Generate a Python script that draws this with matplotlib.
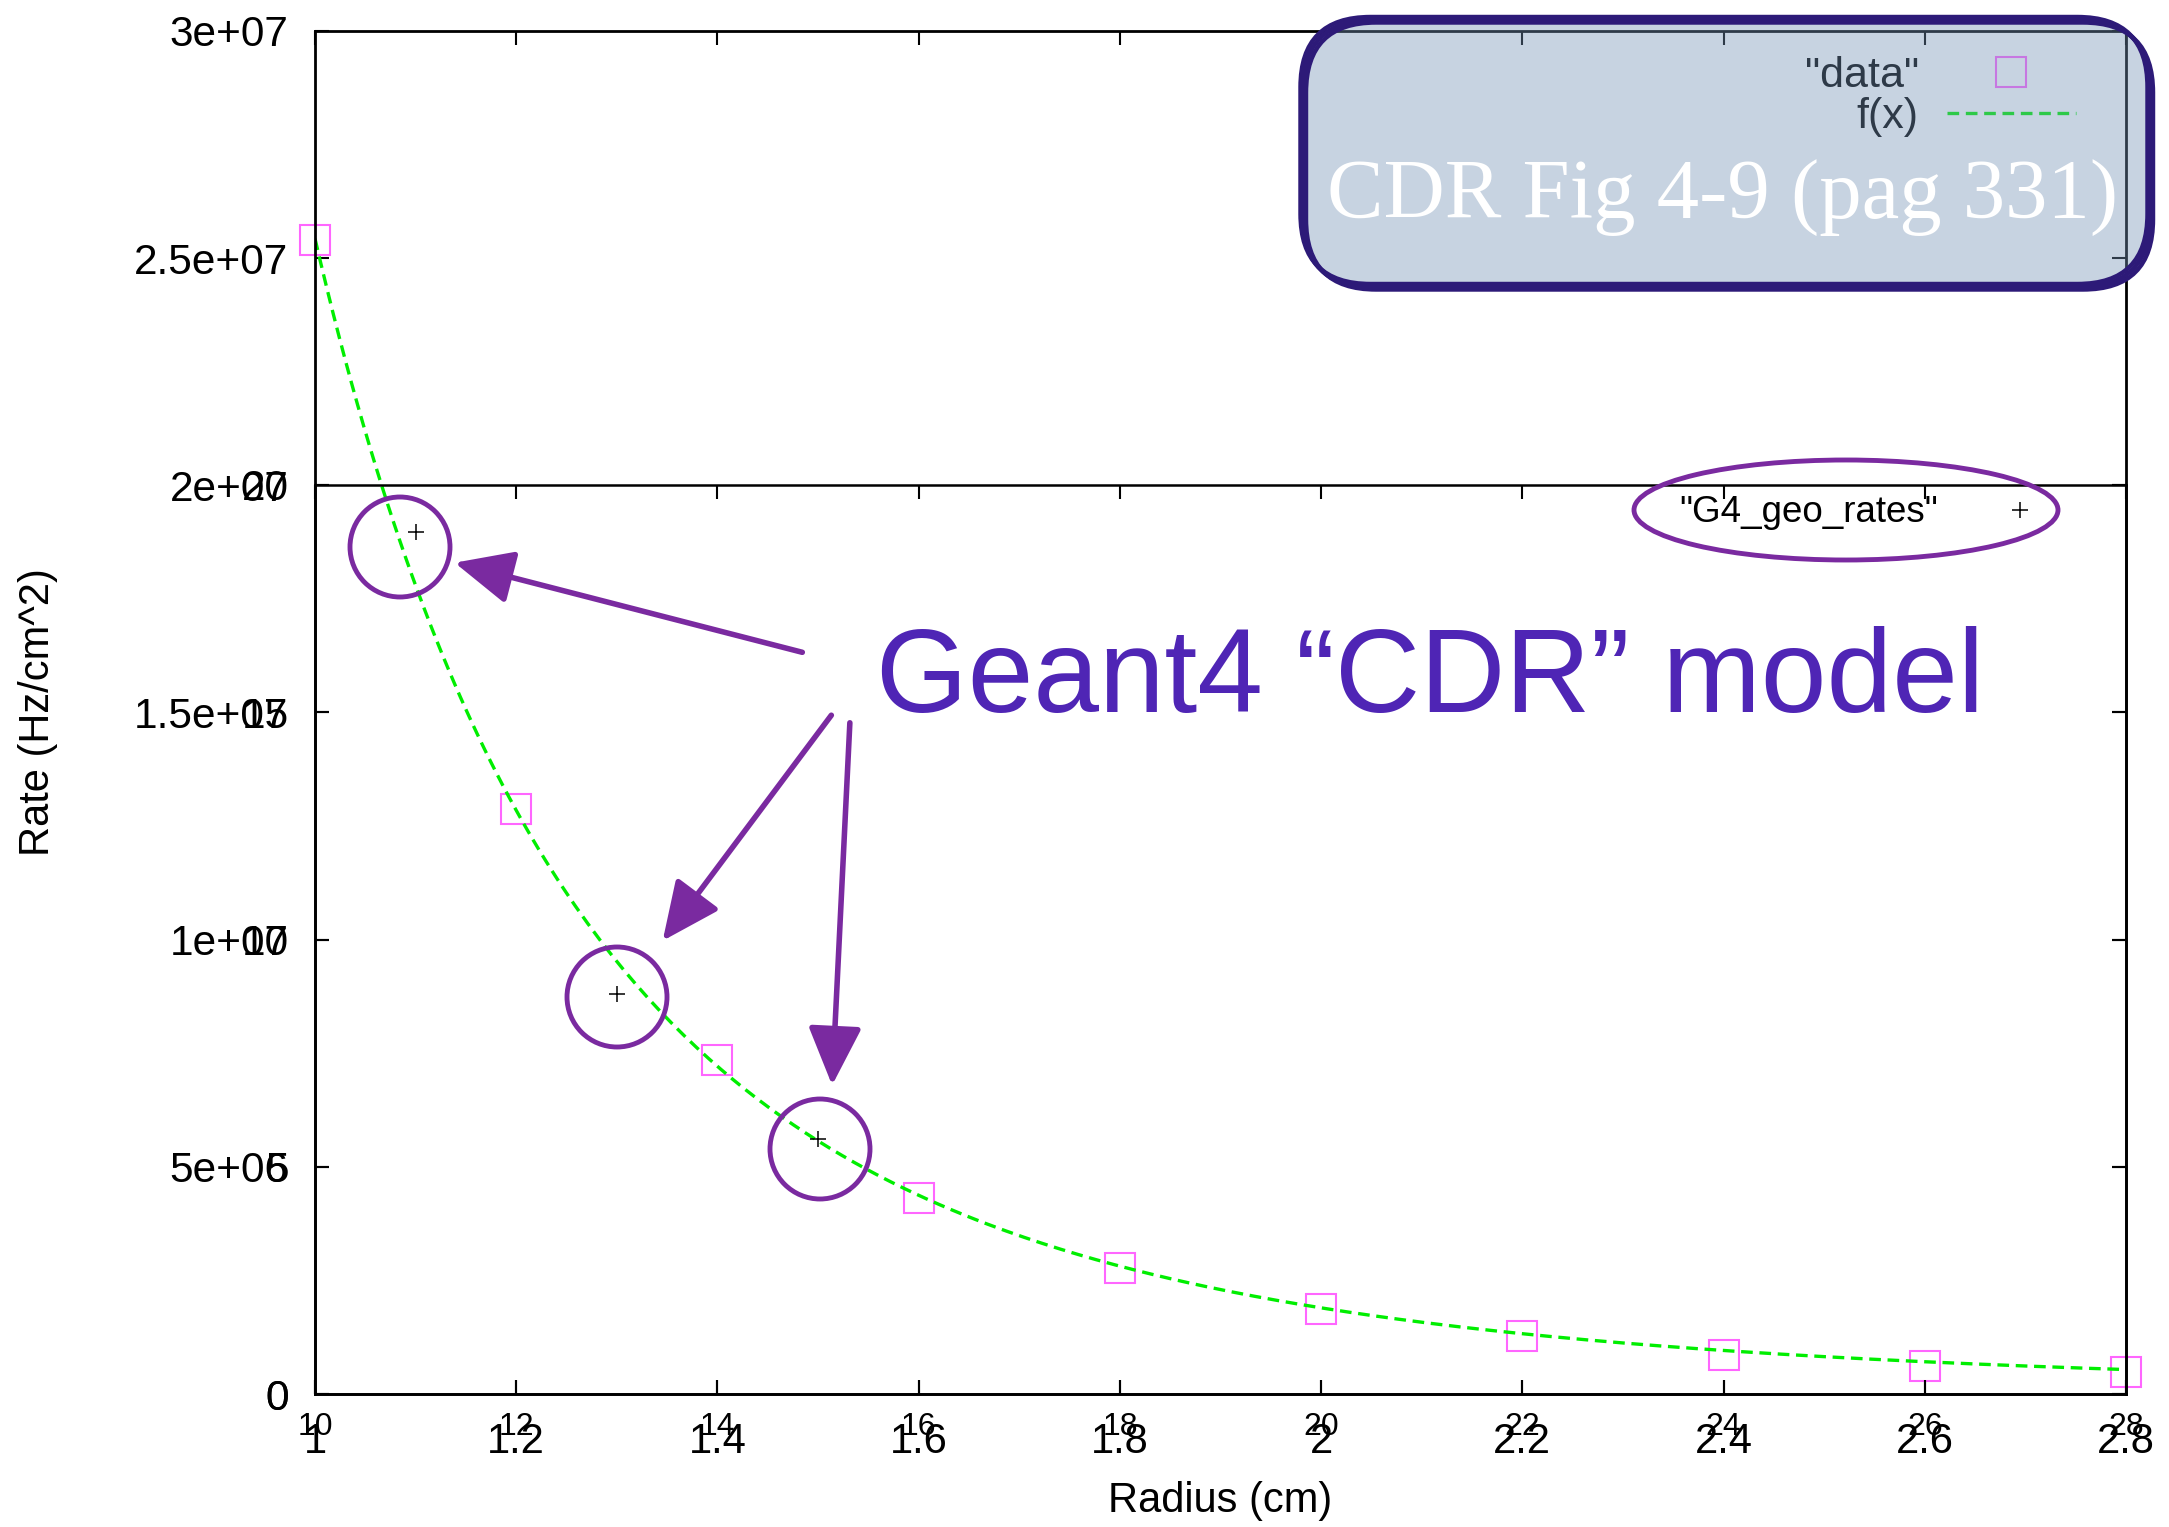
import numpy as np
import matplotlib
matplotlib.use("Agg")
import matplotlib.pyplot as plt
from matplotlib.patches import FancyBboxPatch, Circle, Ellipse, FancyArrowPatch

plt.rcParams['font.family'] = ['Liberation Sans', 'DejaVu Sans']

# "data" points (first plot: radius in cm, rate in Hz/cm^2)
radius = [1.0, 1.2, 1.4, 1.6, 1.8, 2.0, 2.2, 2.4, 2.6, 2.8]
rate = [25.4e6, 12.87e6, 7.36e6, 4.32e6, 2.77e6, 1.86e6, 1.28e6, 0.85e6, 0.61e6, 0.49e6]

# "G4_geo_rates" (second overlaid plot: radius in mm, rate in 1e6 Hz/cm^2)
g4_radius = [11, 13, 15]
g4_rate = [18.96, 8.8, 5.6]

x_ticks = [1.0, 1.2, 1.4, 1.6, 1.8, 2.0, 2.2, 2.4, 2.6, 2.8]
x_tick_labels = ['1', '1.2', '1.4', '1.6', '1.8', '2', '2.2', '2.4', '2.6', '2.8']
y_ticks = [0, 5e6, 1e7, 1.5e7, 2e7, 2.5e7, 3e7]
y_tick_labels = ['0', '5e+06', '1e+07', '1.5e+07', '2e+07', '2.5e+07', '3e+07']
x2_ticks = [10, 12, 14, 16, 18, 20, 22, 24, 26, 28]
y2_ticks = [0, 5, 10, 15, 20]

W, H = 2169, 1527


def px(x, y):
    # pixel position (from top-left) -> figure inches
    return x / 100.0, (H - y) / 100.0


fig = plt.figure(figsize=(W / 100, H / 100), dpi=100)
left, right, top, bottom = 315 / W, 2126 / W, 1 - 31 / H, 1 - 1394 / H
ax = fig.add_axes([left, bottom, right - left, top - bottom])
top2 = 1 - 485 / H
ax2 = fig.add_axes([left, bottom, right - left, top2 - bottom], facecolor='none')

# f(x): power-law fit of the data (weighted like a linear least squares)
coef = np.polyfit(np.log(radius), np.log(rate), 1, w=np.array(rate) / 1e6)
xf = np.linspace(radius[0], radius[-1], 300)
yf = np.exp(np.polyval(coef, np.log(xf)))

ax.plot(radius, rate, ls='none', marker='s', ms=21, mfc='none', mec='#ff66ff',
        mew=1.5, label='"data"', clip_on=False)
ax.plot(xf, yf, color='#00ee00', lw=2.4, dashes=(3.5, 2), label='f(x)')

ax.set_xlim(1, 2.8)
ax.set_ylim(0, 3e7)
ax.set_xticks(x_ticks)
ax.set_xticklabels(x_tick_labels)
ax.set_yticks(y_ticks)
ax.set_yticklabels(y_tick_labels)
ax.tick_params(direction='in', top=True, right=True, length=10, width=1.5)
ax.tick_params(axis='y', labelsize=30.5, pad=19)
ax.tick_params(axis='x', labelsize=30, pad=20)
for s in ax.spines.values():
    s.set_linewidth(2)
ax.set_ylabel('Rate (Hz/cm^2)', fontsize=30)
ax.set_xlabel('Radius (cm)', fontsize=30)
ax.yaxis.set_label_coords(-0.142, 0.5)
ax.xaxis.set_label_coords(0.5, -0.064)

ax.legend(loc='upper right', bbox_to_anchor=(2076 / W, 1 - 56 / H),
          bbox_transform=fig.transFigure, frameon=False, markerfirst=False,
          fontsize=31, handlelength=3.0, handletextpad=0.65, labelspacing=0.02,
          borderpad=0, borderaxespad=0)

# second overlaid plot
ax2.plot(g4_radius, g4_rate, ls='none', marker='+', ms=11, mew=1.1, color='black',
         label='"G4_geo_rates"')
ax2.set_xlim(10, 28)
ax2.set_ylim(0, 20)
ax2.set_xticks(x2_ticks)
ax2.set_yticks(y2_ticks)
ax2.tick_params(direction='in', top=True, right=True, length=10, width=1.5)
ax2.tick_params(axis='y', labelsize=30.5, pad=19)
ax2.tick_params(axis='x', labelsize=23, pad=13)
for s in ax2.spines.values():
    s.set_linewidth(1.8)
ax2.legend(loc='center right', bbox_to_anchor=(2048 / W, 1 - 513 / H),
           bbox_transform=fig.transFigure, frameon=False, markerfirst=False,
           fontsize=26.5, handlelength=1.5, handletextpad=1.5, borderpad=0,
           borderaxespad=0)

# hand-drawn overlays
tr = fig.dpi_scale_trans
x0, y0 = px(1303, 287)
x1, y1 = px(2150, 20)
box = FancyBboxPatch((x0, y0), x1 - x0, y1 - y0, boxstyle='round,pad=0,rounding_size=0.7',
                     transform=tr, facecolor='#7492b6', alpha=0.4, edgecolor='none', zorder=5)
fig.add_artist(box)
for dx, dy in [(0, 0), (0.03, -0.025), (-0.025, 0.03)]:
    edge = FancyBboxPatch((x0 + dx, y0 + dy), x1 - x0, y1 - y0,
                          boxstyle='round,pad=0,rounding_size=0.7', transform=tr,
                          facecolor='none', edgecolor='#2d1a78', lw=3.2, zorder=6)
    fig.add_artist(edge)
cx, cy = px(1723, 218)
fig.text(cx, cy, 'CDR Fig 4-9 (pag 331)', transform=tr, ha='center', va='baseline',
         color='white', fontsize=61, family=['Liberation Serif', 'DejaVu Serif'], zorder=7)

circ_col = '#7a2aa0'
for (cxp, cyp) in [(400, 547), (617, 997), (820, 1149)]:
    c = Circle(px(cxp, cyp), 0.50, transform=tr, facecolor='none', edgecolor=circ_col,
               lw=3.5, zorder=6)
    fig.add_artist(c)
e = Ellipse(px(1846, 510), 4.24, 1.0, transform=tr, facecolor='none', edgecolor=circ_col,
            lw=3.5, zorder=6)
fig.add_artist(e)

for tail, tip in [((805, 653), (452, 562)), ((833, 713), (661, 943)), ((850, 720), (832, 1088))]:
    a = FancyArrowPatch(px(*tail), px(*tip), transform=tr,
                        arrowstyle='-|>,head_length=1.2,head_width=0.55', mutation_scale=30,
                        color=circ_col, lw=4, zorder=6)
    fig.add_artist(a)

gx, gy = px(1430, 712)
fig.text(gx, gy, 'Geant4 \u201cCDR\u201d model', transform=tr, ha='center', va='baseline',
         color='#4f25b5', fontsize=85, zorder=7)

fig.savefig('out.png', dpi=100)
